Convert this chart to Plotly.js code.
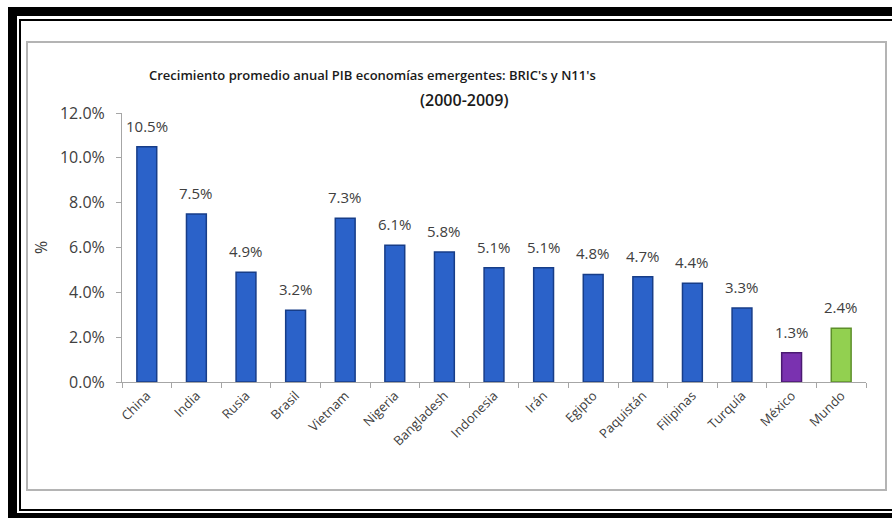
<!DOCTYPE html>
<html>
<head>
<meta charset="utf-8">
<script src="https://cdn.plot.ly/plotly-3.0.1.min.js"></script>
<style>
  html, body { margin: 0; padding: 0; background: #ffffff; }
  #wrap { position: relative; width: 892px; height: 518px; overflow: hidden; }
  #chart { position: absolute; left: 0; top: 0; width: 892px; height: 518px; }
  .fr { position: absolute; background: #000; pointer-events: none; }
  #box { position: absolute; left: 26px; top: 41px; width: 857px; height: 446px;
         border: 2px solid #b4b4b4; pointer-events: none; }
</style>
</head>
<body>
<div id="wrap">
  <div id="chart"></div>
  <div id="box"></div>
  <div class="fr" style="left:8px;top:7px;width:884px;height:9px;"></div>
  <div class="fr" style="left:8px;top:7px;width:9px;height:511px;"></div>
  <div class="fr" style="left:8px;top:513px;width:884px;height:5px;"></div>
  <div class="fr" style="left:19px;top:19px;width:873px;height:2px;"></div>
  <div class="fr" style="left:19px;top:19px;width:2px;height:492px;"></div>
  <div class="fr" style="left:19px;top:509px;width:873px;height:2px;"></div>
</div>
<script>
const categories = ["China", "India", "Rusia", "Brasil", "Vietnam", "Nigeria", "Bangladesh",
  "Indonesia", "Irán", "Egipto", "Paquistán", "Filipinas", "Turquía", "México", "Mundo"];
const growth = [10.5, 7.5, 4.9, 3.2, 7.3, 6.1, 5.8, 5.1, 5.1, 4.8, 4.7, 4.4, 3.3, 1.3, 2.4];
const barColors = ["#2b62c9", "#2b62c9", "#2b62c9", "#2b62c9", "#2b62c9", "#2b62c9", "#2b62c9",
  "#2b62c9", "#2b62c9", "#2b62c9", "#2b62c9", "#2b62c9", "#2b62c9", "#7a32b0", "#92d050"];
const edgeColors = ["#173d88", "#173d88", "#173d88", "#173d88", "#173d88", "#173d88", "#173d88",
  "#173d88", "#173d88", "#173d88", "#173d88", "#173d88", "#173d88", "#4b1a72", "#5d8f2a"];
const yTicks = [0, 2, 4, 6, 8, 10, 12];
const yTickLabels = ["0.0%", "2.0%", "4.0%", "6.0%", "8.0%", "10.0%", "12.0%"];
const titleLine1 = "Crecimiento promedio anual PIB economías emergentes: BRIC's y N11's";
const titleLine2 = "(2000-2009)";

const font = "Open Sans, Noto Sans, sans-serif";

const trace = {
  type: "bar",
  x: categories,
  y: growth,
  marker: { color: barColors, line: { color: edgeColors, width: 1.5 } },
  hoverinfo: "x+y"
};

const valueLabels = categories.map((c, i) => ({
  x: c, y: growth[i], xref: "x", yref: "y",
  text: growth[i].toFixed(1) + "%",
  showarrow: false, xanchor: "center", yanchor: "bottom", yshift: 9,
  font: { family: font, size: 15, color: "#404040" }
}));

const layout = {
  width: 892, height: 518,
  margin: { l: 122, r: 26, t: 113, b: 136 },
  paper_bgcolor: "#ffffff",
  plot_bgcolor: "#ffffff",
  showlegend: false,
  bargap: 0.6,
  font: { family: font, color: "#404040" },
  xaxis: {
    type: "category",
    tickangle: -45,
    tickfont: { family: font, size: 13, color: "#404040" },
    showline: true, linecolor: "#a6a6a6", linewidth: 1,
    ticks: "outside", tickson: "boundaries", ticklen: 5, tickcolor: "#a6a6a6",
    showgrid: false, zeroline: false
  },
  yaxis: {
    range: [0, 12],
    tickvals: yTicks,
    ticktext: yTickLabels,
    tickfont: { family: font, size: 16, color: "#404040" },
    ticklabelstandoff: 8,
    showline: true, linecolor: "#a6a6a6", linewidth: 1,
    ticks: "outside", ticklen: 5, tickcolor: "#a6a6a6",
    showgrid: false, zeroline: false,
    title: { text: "%", font: { family: font, size: 16, color: "#404040" }, standoff: 8 }
  },
  annotations: [
    { text: titleLine1, xref: "paper", yref: "paper", x: 0.337, y: 1.143, xanchor: "center", yanchor: "middle",
      showarrow: false, font: { family: font, size: 13, color: "#1a1a1a", weight: 600 } },
    { text: titleLine2, xref: "paper", yref: "paper", x: 0.46, y: 1.047, xanchor: "center", yanchor: "middle",
      showarrow: false, font: { family: font, size: 16, color: "#1a1a1a", weight: 600 } }
  ].concat(valueLabels)
};

Plotly.newPlot("chart", [trace], layout, { displayModeBar: false, staticPlot: true });
</script>
</body>
</html>
